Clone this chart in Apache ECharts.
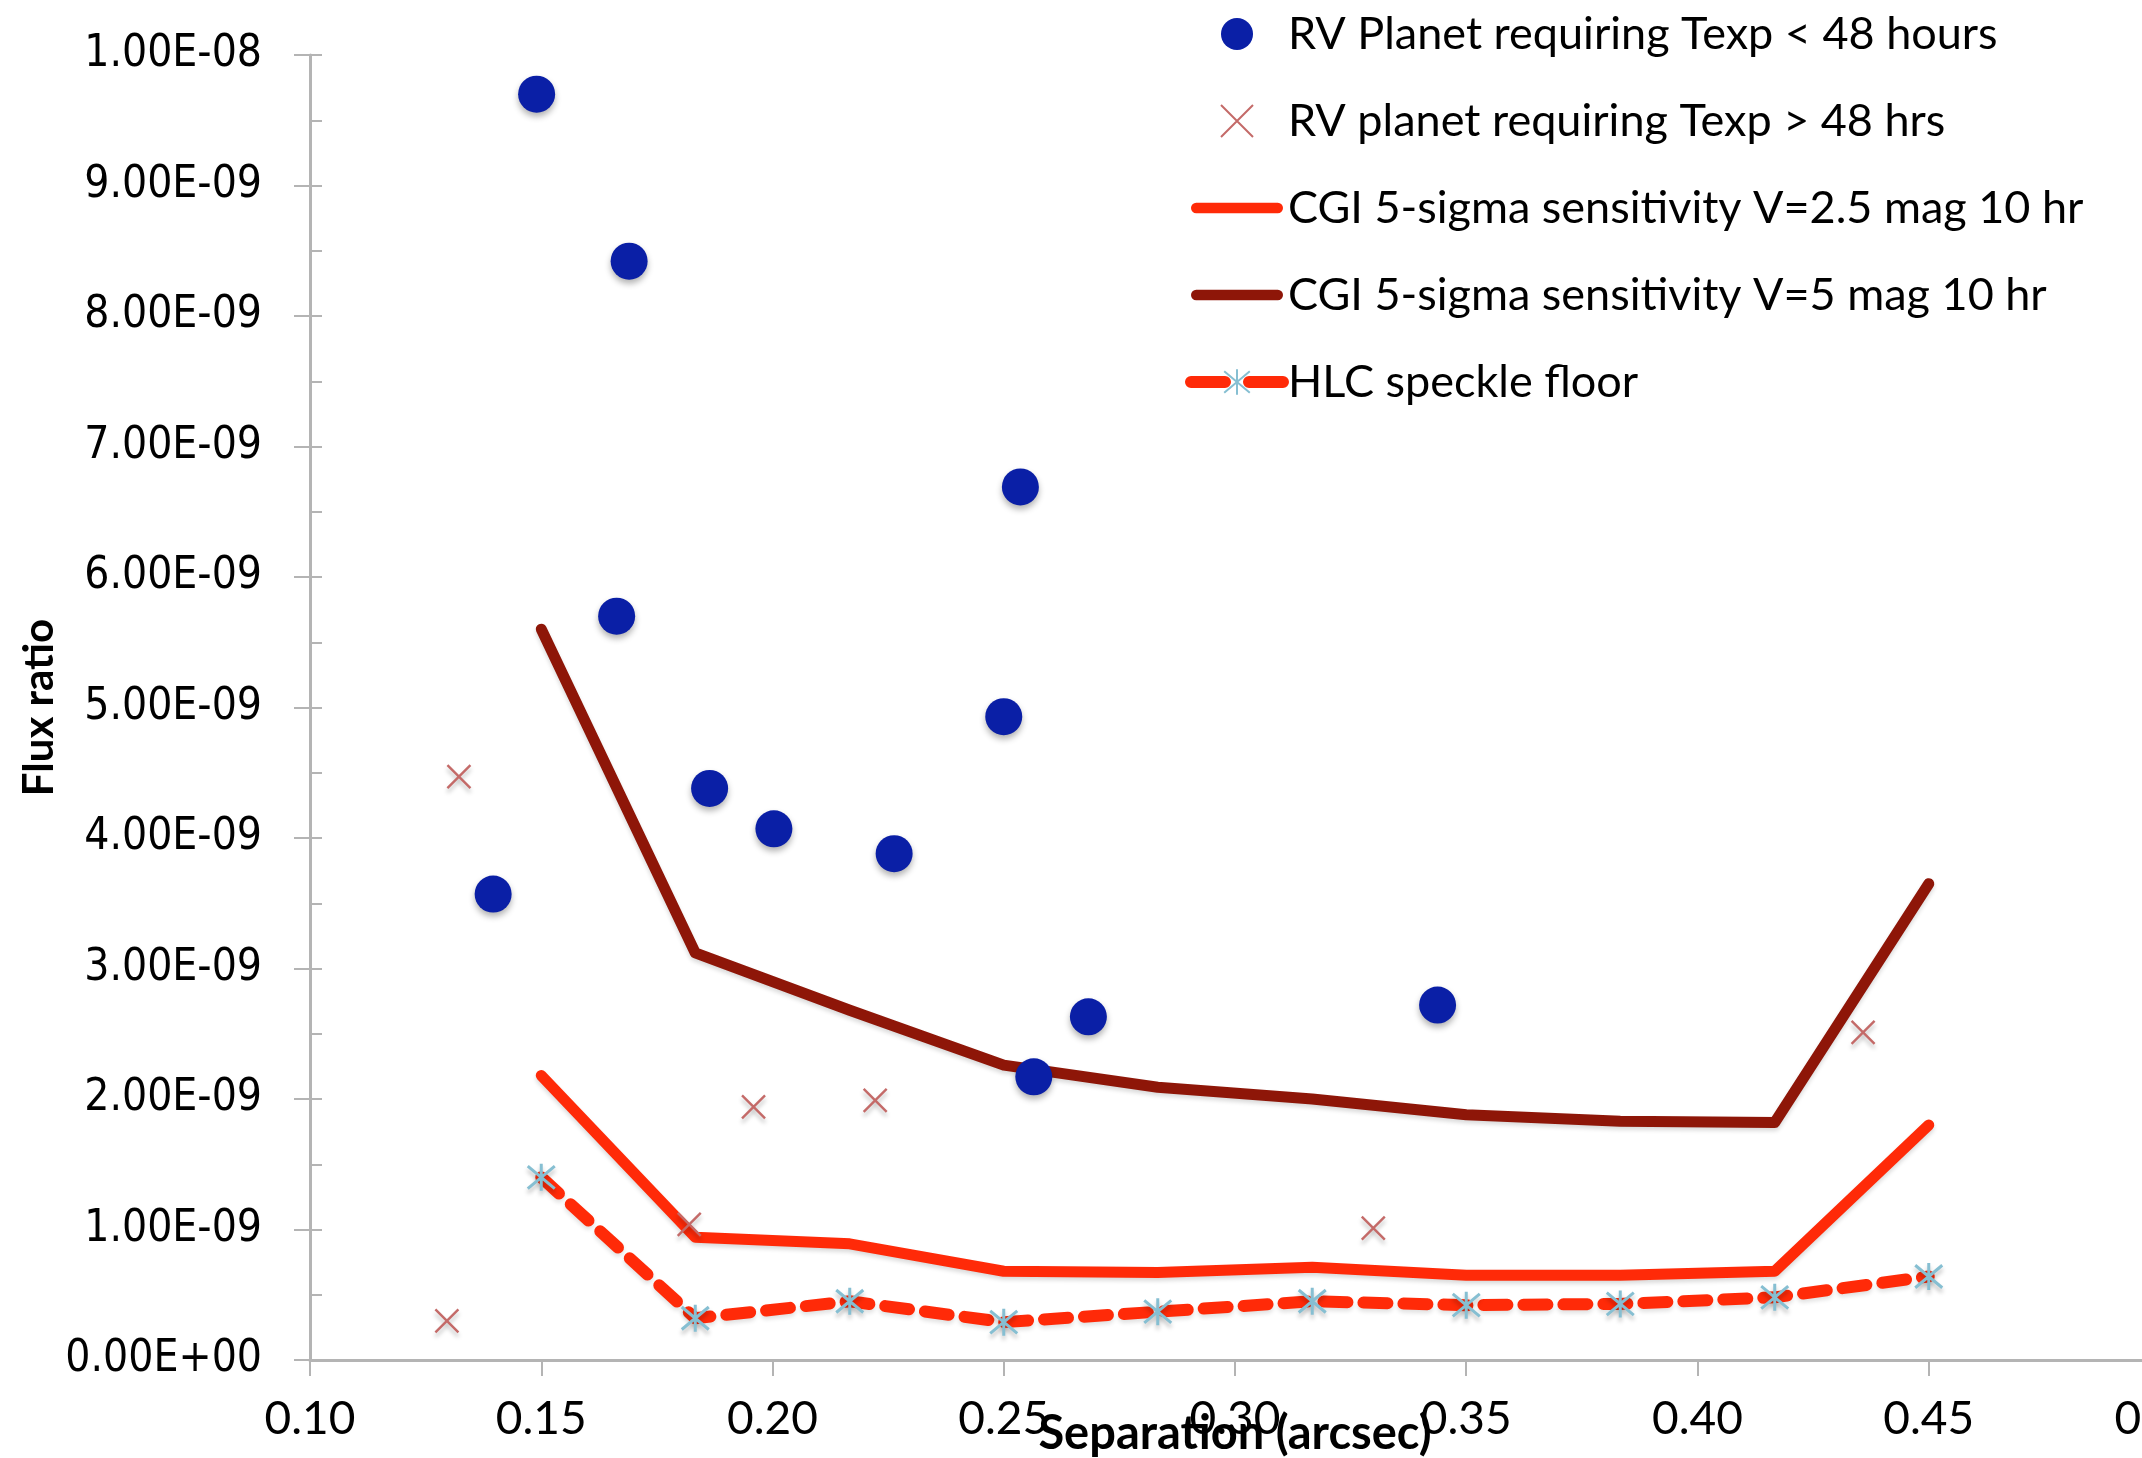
<!DOCTYPE html>
<html>
<head>
<meta charset="utf-8">
<title>Flux ratio vs separation</title>
<script src="https://cdn.jsdelivr.net/npm/echarts@6/dist/echarts.min.js"></script>
<style>
  html, body { margin: 0; padding: 0; background: #ffffff; }
  #chart { width: 2142px; height: 1458px; }
</style>
</head>
<body>
<div id="chart"></div>
<script>
// Planets with exposure time under 48 hours: [separation arcsec, flux ratio]
const rvFastSep  = [0.149, 0.169, 0.2536, 0.1663, 0.250, 0.1864, 0.2003, 0.2263, 0.1396, 0.2683, 0.3438, 0.2565];
const rvFastFlux = [9.70e-9, 8.42e-9, 6.69e-9, 5.70e-9, 4.93e-9, 4.38e-9, 4.07e-9, 3.88e-9, 3.57e-9, 2.63e-9, 2.72e-9, 2.17e-9];

// Planets with exposure time over 48 hours
const rvSlowSep  = [0.1322, 0.1959, 0.2222, 0.4358, 0.3299, 0.1820, 0.1296];
const rvSlowFlux = [4.47e-9, 1.94e-9, 1.99e-9, 2.51e-9, 1.01e-9, 1.04e-9, 0.30e-9];

// Separation grid shared by the sensitivity curves
const curveSep = [0.15, 0.1833, 0.2167, 0.25, 0.2833, 0.3167, 0.35, 0.3833, 0.4167, 0.45];
const cgiBright = [2.18e-9, 0.94e-9, 0.89e-9, 0.68e-9, 0.67e-9, 0.71e-9, 0.65e-9, 0.65e-9, 0.68e-9, 1.80e-9];
const cgiFaint  = [5.60e-9, 3.12e-9, 2.68e-9, 2.26e-9, 2.09e-9, 2.00e-9, 1.88e-9, 1.83e-9, 1.82e-9, 3.65e-9];
const hlcFloor  = [1.40e-9, 0.32e-9, 0.45e-9, 0.29e-9, 0.37e-9, 0.45e-9, 0.42e-9, 0.43e-9, 0.48e-9, 0.64e-9];

const seriesNames = [
  'RV Planet requiring Texp < 48 hours',
  'RV planet requiring Texp > 48 hrs',
  'CGI 5-sigma sensitivity V=2.5 mag 10 hr',
  'CGI 5-sigma sensitivity V=5 mag 10 hr',
  'HLC speckle floor'
];

const pairs = (xs, ys) => xs.map((x, i) => [x, ys[i]]);

// Spreadsheet-style scientific label, e.g. 1.00E-08
function sci(v) {
  if (Math.abs(v) < 1e-20) return '0.00E+00';
  let e = Math.floor(Math.log10(Math.abs(v)) + 1e-9);
  let m = v / Math.pow(10, e);
  if (Math.abs(m) >= 9.995) { m /= 10; e += 1; }
  return m.toFixed(2) + 'E' + (e < 0 ? '-' : '+') + String(Math.abs(e)).padStart(2, '0');
}

const axisGrey = '#b4b4b4';
const brightRed = '#ff2a08';
const darkRed = '#8e1608';
const narrow = "'Liberation Sans Narrow', 'Lato', sans-serif";
const humanist = "'Lato', 'Noto Sans', sans-serif";

const crossMark = 'path://M0,0L10,10M0,10L10,0';
const starMark  = 'path://M5,-1L5,11M0,0L10,10M0,10L10,0';
// rounded bar used as the legend key of the solid curves
const barKey = 'path://M5,0L83,0A5,5 0 0 1 83,10L5,10A5,5 0 0 1 5,0Z';

const chart = echarts.init(document.getElementById('chart'), null, { renderer: 'canvas' });

chart.setOption({
  backgroundColor: '#ffffff',
  animation: false,
  grid: { left: 310, right: -18, top: 55, bottom: 98, containLabel: false, outerBoundsMode: 'none' },
  legend: {
    orient: 'vertical',
    left: 1180,
    top: 4,
    itemWidth: 92,
    itemHeight: 32,
    itemGap: 37,
    lineStyle: { width: 'inherit', type: [34, 24], cap: 'round' },
    data: [
      { name: seriesNames[0] },
      { name: seriesNames[1] },
      { name: seriesNames[2], icon: barKey, itemStyle: { color: brightRed } },
      { name: seriesNames[3], icon: barKey, itemStyle: { color: darkRed } },
      { name: seriesNames[4] }
    ],
    textStyle: { fontFamily: humanist, fontSize: 45, color: '#000', lineHeight: 50 }
  },
  xAxis: {
    type: 'value',
    min: 0.1, max: 0.5, interval: 0.05,
    name: 'Separation (arcsec)',
    nameLocation: 'middle',
    nameGap: 50,
    nameMoveOverlap: false,
    nameTextStyle: { fontFamily: humanist, fontSize: 47, fontWeight: 'bold', color: '#000' },
    axisLine: { show: true, lineStyle: { color: axisGrey, width: 3 } },
    axisTick: { show: true, inside: false, length: 16, lineStyle: { color: axisGrey, width: 2 } },
    axisLabel: { margin: 36, fontFamily: narrow, fontSize: 46, color: '#000', formatter: v => v.toFixed(2) },
    splitLine: { show: false }
  },
  yAxis: [
    {
      type: 'value',
      min: 0, max: 1e-8, interval: 1e-9,
      name: 'Flux ratio',
      nameLocation: 'middle',
      nameGap: 250,
      nameMoveOverlap: false,
      nameTextStyle: { fontFamily: humanist, fontSize: 42, fontWeight: 'bold', color: '#000' },
      axisLine: { show: true, lineStyle: { color: axisGrey, width: 3 } },
      axisTick: { show: true, inside: false, length: 16, lineStyle: { color: axisGrey, width: 2 } },
      axisLabel: { margin: 48, fontFamily: "'DejaVu Sans Condensed', 'DejaVu Sans', sans-serif", fontSize: 44, color: '#000', formatter: sci },
      splitLine: { show: false }
    },
    {
      // inner half-step ticks on the same left edge
      type: 'value',
      position: 'left',
      min: 0, max: 1e-8, interval: 5e-10,
      axisLine: { show: false },
      axisTick: { show: true, inside: true, length: 12, lineStyle: { color: axisGrey, width: 2 } },
      axisLabel: { show: false },
      splitLine: { show: false }
    }
  ],
  series: [
    {
      name: seriesNames[2],
      type: 'line',
      data: pairs(curveSep, cgiBright),
      symbol: 'none',
      lineStyle: { color: brightRed, width: 11, cap: 'round', join: 'round',
        shadowColor: 'rgba(0,0,0,0.15)', shadowBlur: 4, shadowOffsetY: 3 },
      itemStyle: { color: brightRed },
      z: 2
    },
    {
      name: seriesNames[3],
      type: 'line',
      data: pairs(curveSep, cgiFaint),
      symbol: 'none',
      lineStyle: { color: darkRed, width: 11, cap: 'round', join: 'round',
        shadowColor: 'rgba(0,0,0,0.15)', shadowBlur: 4, shadowOffsetY: 3 },
      itemStyle: { color: darkRed },
      z: 2
    },
    {
      name: seriesNames[4],
      type: 'line',
      data: pairs(curveSep, hlcFloor),
      symbol: starMark,
      symbolSize: 27,
      showSymbol: true,
      lineStyle: { color: brightRed, width: 12, type: [24, 16], cap: 'round', join: 'round',
        shadowColor: 'rgba(0,0,0,0.12)', shadowBlur: 4, shadowOffsetY: 3 },
      itemStyle: { color: 'rgba(0,0,0,0)', borderColor: '#86bfd2', borderWidth: 3,
        shadowColor: 'rgba(0,0,0,0.25)', shadowBlur: 4, shadowOffsetY: 4 },
      z: 3
    },
    {
      name: seriesNames[1],
      type: 'scatter',
      data: pairs(rvSlowSep, rvSlowFlux),
      symbol: crossMark,
      symbolSize: 23,
      itemStyle: { opacity: 1, color: 'rgba(0,0,0,0)', borderColor: '#c46a68', borderWidth: 2.4,
        shadowColor: 'rgba(0,0,0,0.25)', shadowBlur: 4, shadowOffsetY: 4 },
      z: 4
    },
    {
      name: seriesNames[0],
      type: 'scatter',
      data: pairs(rvFastSep, rvFastFlux),
      symbol: 'circle',
      symbolSize: 37,
      itemStyle: { opacity: 1, color: '#0a1fa6',
        shadowColor: 'rgba(0,0,0,0.3)', shadowBlur: 6, shadowOffsetY: 4 },
      z: 5
    }
  ]
});
</script>
</body>
</html>
